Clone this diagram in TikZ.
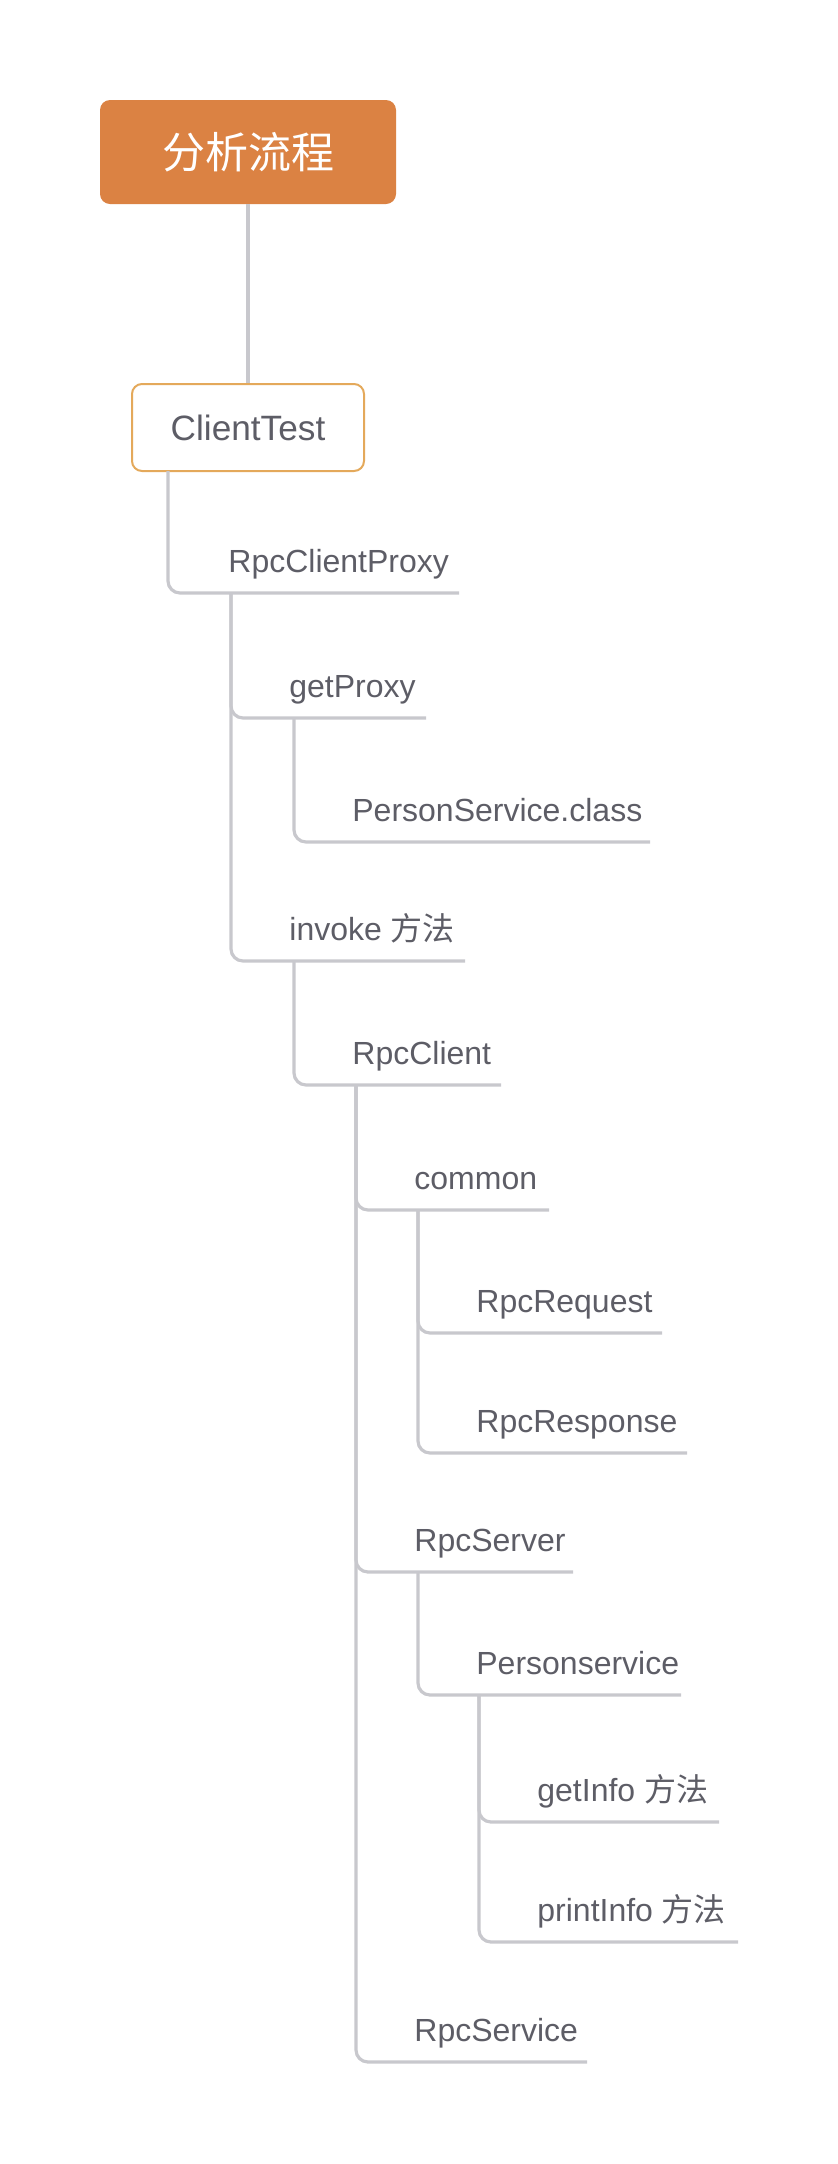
\documentclass[tikz,border=0pt]{standalone}
\usepackage{fontspec}
\setmainfont{Liberation Sans}
\newfontfamily\cjk{Noto Sans CJK SC}
\definecolor{rootfill}{HTML}{DB8243}
\definecolor{ctborder}{HTML}{E4A95B}
\definecolor{linegray}{HTML}{C8C8CD}
\definecolor{textgray}{HTML}{5D5D66}
\begin{document}
\begin{tikzpicture}[x=0.5pt,y=-0.5pt,
  conn/.style={draw=linegray,line width=1.6pt,rounded corners=6pt},
  item/.style={anchor=base west,inner sep=0pt,text=textgray,font=\fontsize{16}{19}\selectfont},
  rootbox/.style={fill=rootfill,rounded corners=5pt,minimum width=148pt,minimum height=52pt,inner sep=0pt,text=white,font=\cjk\fontsize{21.5}{26}\selectfont},
  ctbox/.style={draw=ctborder,fill=white,line width=1pt,rounded corners=5pt,minimum width=116pt,minimum height=43.5pt,inner sep=0pt,text=textgray,font=\fontsize{17.6}{21}\selectfont}]
\useasboundingbox (0,0) rectangle (838,2164);
% boxes
\node[rootbox] (root) at (248,152) {分析流程};
\node[ctbox] (ct) at (248,427.5) {ClientTest};
\draw[conn] (root.south) -- (ct.north);
\coordinate (ctv) at (168,471);
% items
\node[item] (rcp) at (228,572) {RpcClientProxy};
\node[item] (gp) at (289,697) {getProxy};
\node[item] (psc) at (352,821) {PersonService.class};
\node[item] (inv) at (289,940) {invoke {\cjk 方法}};
\node[item] (rc) at (352,1064) {RpcClient};
\node[item] (com) at (414,1189) {common};
\node[item] (req) at (476,1312) {RpcRequest};
\node[item] (resp) at (476,1432) {RpcResponse};
\node[item] (srv) at (414,1551) {RpcServer};
\node[item] (ps) at (476,1674) {Personservice};
\node[item] (gi) at (537,1801) {getInfo {\cjk 方法}};
\node[item] (pi) at (537,1921) {printInfo {\cjk 方法}};
\node[item] (rs) at (414,2041) {RpcService};
% underline ends
\coordinate (rcp-e) at (459,593);
\coordinate (gp-e) at (426,718);
\coordinate (psc-e) at (650,842);
\coordinate (inv-e) at (465,961);
\coordinate (rc-e) at (501,1085);
\coordinate (com-e) at (549,1210);
\coordinate (req-e) at (662,1333);
\coordinate (resp-e) at (687,1453);
\coordinate (srv-e) at (573,1572);
\coordinate (ps-e) at (681,1695);
\coordinate (gi-e) at (719,1822);
\coordinate (pi-e) at (738,1942);
\coordinate (rs-e) at (587,2062);
% branch starts (children verticals)
\coordinate (rcp-v) at (231,593);
\coordinate (gp-v) at (294,718);
\coordinate (inv-v) at (294,961);
\coordinate (rc-v) at (356,1085);
\coordinate (com-v) at (418,1210);
\coordinate (srv-v) at (418,1572);
\coordinate (ps-v) at (479,1695);
% connectors
\draw[conn] (ctv) |- (rcp-e);
\draw[conn] (rcp-v) |- (gp-e);
\draw[conn] (gp-v) |- (psc-e);
\draw[conn] (rcp-v) |- (inv-e);
\draw[conn] (inv-v) |- (rc-e);
\draw[conn] (rc-v) |- (com-e);
\draw[conn] (com-v) |- (req-e);
\draw[conn] (com-v) |- (resp-e);
\draw[conn] (rc-v) |- (srv-e);
\draw[conn] (srv-v) |- (ps-e);
\draw[conn] (ps-v) |- (gi-e);
\draw[conn] (ps-v) |- (pi-e);
\draw[conn] (rc-v) |- (rs-e);
\end{tikzpicture}
\end{document}
